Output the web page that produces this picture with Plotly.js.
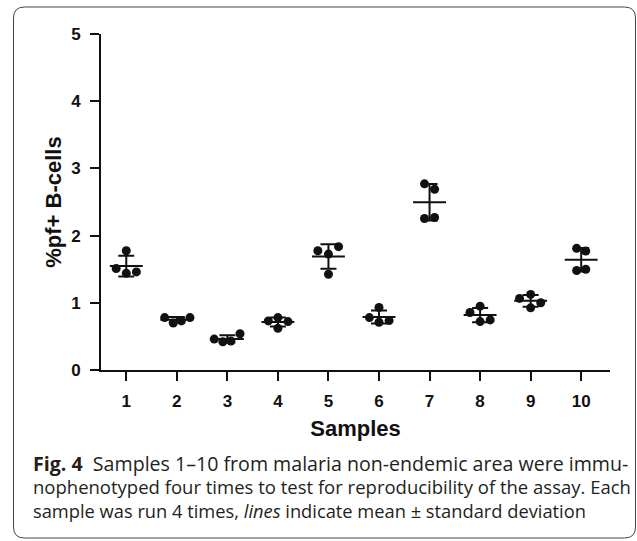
<!DOCTYPE html>
<html>
<head>
<meta charset="utf-8">
<script src="https://cdn.plot.ly/plotly-3.0.1.min.js"></script>
<style>
html,body{margin:0;padding:0;background:#fff;}
#chart{width:637px;height:541px;}
</style>
</head>
<body>
<div id="chart"></div>
<script>
// ---- data ----
var samples = [1, 2, 3, 4, 5, 6, 7, 8, 9, 10];
var s1  = [1.775, 1.51, 1.44, 1.46];
var s2  = [0.78, 0.70, 0.73, 0.78];
var s3  = [0.46, 0.42, 0.43, 0.54];
var s4  = [0.73, 0.78, 0.62, 0.72];
var s5  = [1.775, 1.725, 1.835, 1.425];
var s6  = [0.93, 0.78, 0.71, 0.735];
var s7  = [2.77, 2.69, 2.255, 2.27];
var s8  = [0.95, 0.855, 0.72, 0.745];
var s9  = [1.125, 1.065, 0.925, 1.0];
var s10 = [1.81, 1.77, 1.48, 1.50];
// horizontal scatter offsets of the four runs inside each sample (category units)
var jitter = [
  [0, -0.2, 0, 0.2],
  [-0.24, -0.07, 0.09, 0.26],
  [-0.26, -0.09, 0.07, 0.25],
  [-0.19, 0, 0, 0.2],
  [-0.21, 0, 0.2, 0],
  [0, -0.19, 0, 0.2],
  [-0.1, 0.1, -0.1, 0.1],
  [0, -0.2, 0, 0.2],
  [0, -0.22, 0, 0.2],
  [-0.09, 0.09, -0.09, 0.09]
];
var yTickVals = [0, 1, 2, 3, 4, 5];
var yTitle = "%pf+ B-cells";
var xTitle = "Samples";
// caption lines as [text, weight, style] pieces
var captionLines = [
  [["Fig. 4", "bold", "normal"], ["\u00a0 Samples 1–10 from malaria non-endemic area were immu-", "normal", "normal"]],
  [["nophenotyped four times to test for reproducibility of the assay. Each", "normal", "normal"]],
  [["sample was run 4 times, ", "normal", "normal"], ["lines", "normal", "italic"], [" indicate mean ± standard deviation", "normal", "normal"]]
];

var groups = [s1, s2, s3, s4, s5, s6, s7, s8, s9, s10];

function mean(a){ return a.reduce(function(s,v){return s+v;},0)/a.length; }
function sd(a){ var m=mean(a); return Math.sqrt(a.reduce(function(s,v){return s+(v-m)*(v-m);},0)/(a.length-1)); }

var dotX = [], dotY = [];
groups.forEach(function(g, i){
  g.forEach(function(v, j){ dotX.push(samples[i] + jitter[i][j]); dotY.push(v); });
});
var means = groups.map(mean);
var sds = groups.map(sd);

var ink = '#111';

var traces = [
  {
    type: 'scatter', mode: 'markers', x: dotX, y: dotY,
    marker: {color: ink, size: 9, symbol: 'circle'},
    hoverinfo: 'y', showlegend: false, cliponaxis: false
  },
  {
    type: 'scatter', mode: 'markers', x: samples, y: means,
    marker: {symbol: 'line-ew', size: 23.5, color: ink, line: {color: ink, width: 2}},
    error_y: {type: 'data', array: sds, visible: true, color: ink, thickness: 2, width: 8},
    showlegend: false, cliponaxis: false
  }
];

// plot area in pixels: left 101, right 610, top 34, bottom 370
var L = 101, R = 610, T = 34, B = 370;
function px(x){ return (x - L) / (R - L); }
function py(y){ return (B - y) / (B - T); }

// rounded frame around the figure
var fx0 = 13.5, fx1 = 635.5, fy0 = 7, fy1 = 538, rr = 11;
var framePath =
  'M' + px(fx0 + rr) + ',' + py(fy0) +
  ' L' + px(fx1 - rr) + ',' + py(fy0) +
  ' Q' + px(fx1) + ',' + py(fy0) + ' ' + px(fx1) + ',' + py(fy0 + rr) +
  ' L' + px(fx1) + ',' + py(fy1 - rr) +
  ' Q' + px(fx1) + ',' + py(fy1) + ' ' + px(fx1 - rr) + ',' + py(fy1) +
  ' L' + px(fx0 + rr) + ',' + py(fy1) +
  ' Q' + px(fx0) + ',' + py(fy1) + ' ' + px(fx0) + ',' + py(fy1 - rr) +
  ' L' + px(fx0) + ',' + py(fy0 + rr) +
  ' Q' + px(fx0) + ',' + py(fy0) + ' ' + px(fx0 + rr) + ',' + py(fy0) + ' Z';

// ---- caption: one annotation, each line sized to its width in the reference ----
var capX = 31, capMidY = 486;
var capRight = [626, 628, 583];
var capFamily = 'Open Sans';
var ctx = document.createElement('canvas').getContext('2d');
function lineWidth(pieces, size){
  var w = 0;
  pieces.forEach(function(p){
    ctx.font = p[2] + ' ' + p[1] + ' ' + size + 'px "' + capFamily + '"';
    w += ctx.measureText(p[0]).width;
  });
  return w;
}
function esc(s){ return s.replace(/&/g,'&amp;').replace(/</g,'&lt;'); }
var capHtml = captionLines.map(function(pieces, i){
  var w = lineWidth(pieces, 20);
  var size = (w > 0) ? Math.round(20 * (capRight[i] - capX) / w * 10) / 10 : 19.5;
  var inner = pieces.map(function(p){
    var t = esc(p[0]);
    if (p[1] === 'bold') t = '<b>' + t + '</b>';
    if (p[2] === 'italic') t = '<i>' + t + '</i>';
    return t;
  }).join('');
  return '<span style="font-size:' + size + 'px">' + inner + '</span>';
}).join('<br>');

var annotations = [{
  text: capHtml, xref: 'paper', yref: 'paper', x: px(capX), y: py(capMidY),
  xanchor: 'left', yanchor: 'middle', showarrow: false, align: 'left',
  font: {family: capFamily + ', sans-serif', size: 17.9, color: '#231f20'}
}];

var axisFont = {family: 'Liberation Sans, Arial, sans-serif', size: 17, color: ink, weight: 'bold'};
var titleFont = {family: 'Liberation Sans, Arial, sans-serif', size: 22, color: ink, weight: 'bold'};

var layout = {
  width: 637, height: 541,
  margin: {l: L, r: 637 - R, t: T, b: 541 - B, pad: 0},
  paper_bgcolor: '#fff', plot_bgcolor: '#fff',
  showlegend: false,
  font: {family: 'Liberation Sans, Arial, sans-serif', color: ink},
  xaxis: {
    range: [0.5, 10.57], tickmode: 'array', tickvals: samples, ticktext: samples.map(String),
    showline: true, linecolor: ink, linewidth: 2, mirror: false,
    ticks: 'outside', ticklen: 9, tickwidth: 2, tickcolor: ink, ticklabelstandoff: 6,
    showgrid: false, zeroline: false, tickfont: axisFont,
    title: {text: xTitle, font: titleFont, standoff: 10}
  },
  yaxis: {
    range: [0, 5], tickmode: 'array', tickvals: yTickVals, ticktext: yTickVals.map(String),
    showline: true, linecolor: ink, linewidth: 2,
    ticks: 'outside', ticklen: 9, tickwidth: 2, tickcolor: ink, ticklabelstandoff: 6,
    showgrid: false, zeroline: false, tickfont: axisFont,
    title: {text: yTitle, font: titleFont, standoff: 3}
  },
  shapes: [{type: 'path', xref: 'paper', yref: 'paper', path: framePath, line: {color: '#444', width: 1}, layer: 'below'}],
  annotations: annotations
};

Plotly.newPlot('chart', traces, layout, {displayModeBar: false, staticPlot: true});
</script>
</body>
</html>
